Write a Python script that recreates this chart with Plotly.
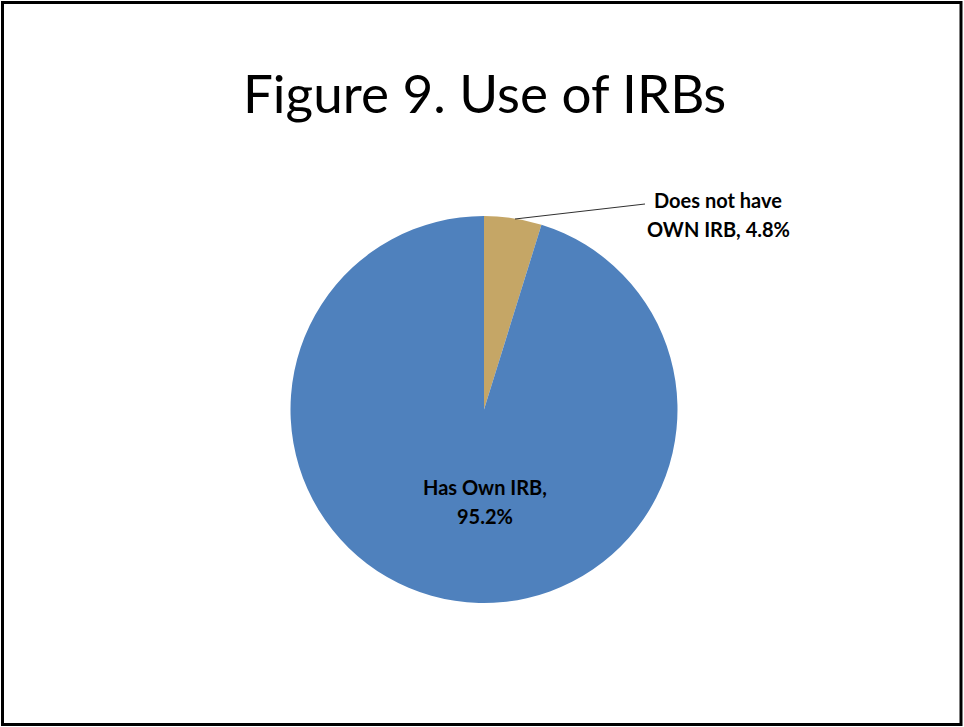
import plotly.graph_objects as go

# Data
categories = ["Does not have OWN IRB", "Has Own IRB"]
label_lines = [["Does not have", "OWN IRB, 4.8%"], ["Has Own IRB,", "95.2%"]]
values = [4.8, 95.2]
colors = ["#C5A666", "#4F81BD"]
title_text = "Figure 9. Use of IRBs"

W, H = 964, 727

def px(x):
    return x / W

def py(y):
    return 1 - y / H

cx, cy, r = 484, 409.5, 193.5

fig = go.Figure(go.Pie(
    labels=categories,
    values=values,
    marker=dict(colors=colors, line=dict(width=0)),
    sort=False,
    direction="clockwise",
    rotation=0,
    textinfo="none",
    hoverinfo="label+percent",
    showlegend=False,
    domain=dict(x=[px(cx - r), px(cx + r)], y=[py(cy + r), py(cy - r)]),
))

annotations = []
font_lbl = dict(family="Lato, Carlito, Calibri, sans-serif", size=20, color="#000000")
# outside label (small slice)
for i, line in enumerate(label_lines[0]):
    annotations.append(dict(x=px(718), y=py(200 + i * 29), xref="paper", yref="paper",
                            text="<b>%s</b>" % line, showarrow=False, font=font_lbl,
                            xanchor="center", yanchor="middle"))
# inside label (large slice)
for i, line in enumerate(label_lines[1]):
    annotations.append(dict(x=px(485), y=py(487 + i * 29), xref="paper", yref="paper",
                            text="<b>%s</b>" % line, showarrow=False, font=font_lbl,
                            xanchor="center", yanchor="middle"))
# title
annotations.append(dict(x=px(484), y=py(92), xref="paper", yref="paper",
                        text=title_text, showarrow=False,
                        font=dict(family="Lato, Carlito, Calibri, sans-serif", size=53, color="#000000"),
                        xanchor="center", yanchor="middle"))

shapes = [
    dict(type="line", xref="paper", yref="paper", x0=px(515), y0=py(219), x1=px(645), y1=py(204),
         line=dict(color="#303030", width=1)),
    dict(type="rect", xref="paper", yref="paper", x0=px(2.5), y0=py(2.5), x1=px(961), y1=py(724.5),
         line=dict(color="#000000", width=3)),
]

fig.update_layout(
    width=W, height=H,
    margin=dict(l=0, r=0, t=0, b=0),
    paper_bgcolor="#FFFFFF",
    plot_bgcolor="#FFFFFF",
    annotations=annotations,
    shapes=shapes,
)

fig.write_html("out.html",
               config={"displayModeBar": False},
               post_script="document.body.style.margin='0';document.body.style.overflow='hidden';")
